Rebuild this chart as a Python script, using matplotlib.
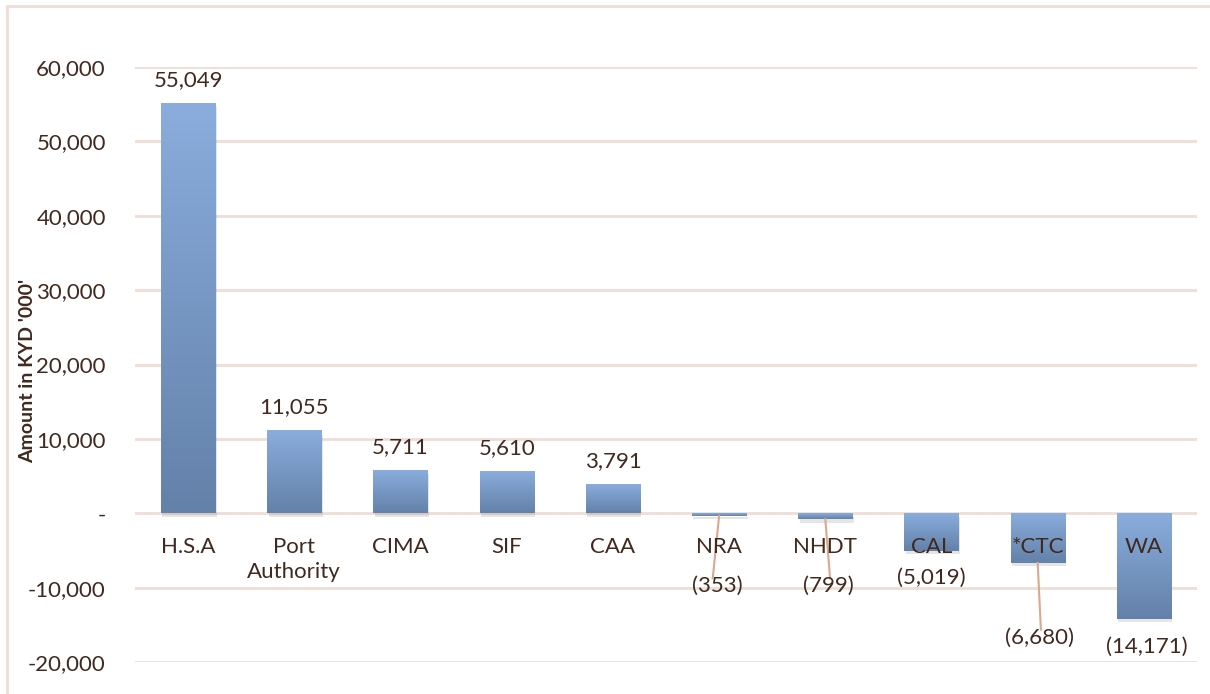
import matplotlib
matplotlib.use("Agg")
import matplotlib.pyplot as plt
import matplotlib.patheffects as pe
from matplotlib.colors import LinearSegmentedColormap
from matplotlib.patches import Rectangle
import numpy as np

# data
categories = ["H.S.A", "Port\nAuthority", "CIMA", "SIF", "CAA",
              "NRA", "NHDT", "CAL", "*CTC", "WA"]
values = [55049, 11055, 5711, 5610, 3791, -353, -799, -5019, -6680, -14171]
yticks = [-20000, -10000, 0, 10000, 20000, 30000, 40000, 50000, 60000]
ytick_labels = ["-20,000", "-10,000", "-", "10,000", "20,000", "30,000",
                "40,000", "50,000", "60,000"]

txt = "#40291d"
grid_c = "#eeded5"
lead_c = "#d9a88f"
plt.rcParams["font.family"] = ["Lato", "DejaVu Sans"]

fig = plt.figure(figsize=(12.1, 6.94), dpi=100)
ax = fig.add_axes([135/1210, 32/694, 1062/1210, 595/694])

# frame around the chart
fig.patches.append(Rectangle((7/1210, -0.02), 1.1, 1 - 6/694 + 0.02,
                             transform=fig.transFigure, fill=False,
                             edgecolor=grid_c, linewidth=2))

x = np.arange(len(values))
bars = ax.bar(x, values, width=0.51, facecolor="white", edgecolor="none", zorder=2)

cmap = LinearSegmentedColormap.from_list("g", ["#6381a9", "#8aaddd"])
grad = np.linspace(0, 1, 256).reshape(-1, 1)
for b in bars:
    b.set_path_effects([pe.SimplePatchShadow(offset=(1, -2.5), shadow_rgbFace="#000000", alpha=0.1),
                        pe.Normal()])
    x0 = b.get_x()
    x1 = x0 + b.get_width()
    y0 = min(0, b.get_y() + b.get_height())
    y1 = max(0, b.get_y() + b.get_height())
    ax.imshow(grad, extent=[x0, x1, y0, y1], origin="lower", cmap=cmap,
              aspect="auto", zorder=3)

ax.set_xlim(-0.5, len(values) - 0.5)
ax.set_ylim(-20000, 60000)
ax.set_yticks(yticks)
ax.set_yticklabels(ytick_labels, fontsize=16, color=txt)
ax.set_xticks([])
ax.tick_params(axis="y", length=0, pad=21)
for s in ax.spines.values():
    s.set_visible(False)
ax.grid(axis="y", color=grid_c, linewidth=2, zorder=0)
ax.set_axisbelow(True)
fig.text(28/1210, 1 - 371/694, "Amount in KYD '000'", rotation=90, fontsize=14,
         fontweight="bold", color=txt, ha="center", va="center")

# category labels just below zero line
for i, c in enumerate(categories):
    ax.annotate(c, (i, 0), xytext=(0, -17), textcoords="offset points",
                ha="center", va="top", fontsize=16, color=txt,
                linespacing=1.35, zorder=5)

# value labels
lab_off = {5: (-0.02, -9800), 6: (0.03, -9800), 7: (0, -8750),
           8: (0.02, -16700), 9: (0.03, -18000)}
lead = {5: (-9800 + 1050), 6: (-9800 + 1050), 8: (-16700 + 1050)}
for i, v in enumerate(values):
    if v >= 0:
        ax.annotate(f"{v:,}", (i, v), xytext=(0, 10), textcoords="offset points",
                    ha="center", va="bottom", fontsize=16, color=txt)
    else:
        dx, ly = lab_off[i]
        ax.text(i + dx, ly, f"({-v:,})", ha="center", va="center",
                fontsize=16, color=txt, zorder=5)
        if i in lead:
            ax.plot([i, i + dx * 1.5 - 0.03 * (i == 5)], [v, lead[i]],
                    color=lead_c, linewidth=1.5, zorder=4)

fig.savefig("out.png", dpi=100)
